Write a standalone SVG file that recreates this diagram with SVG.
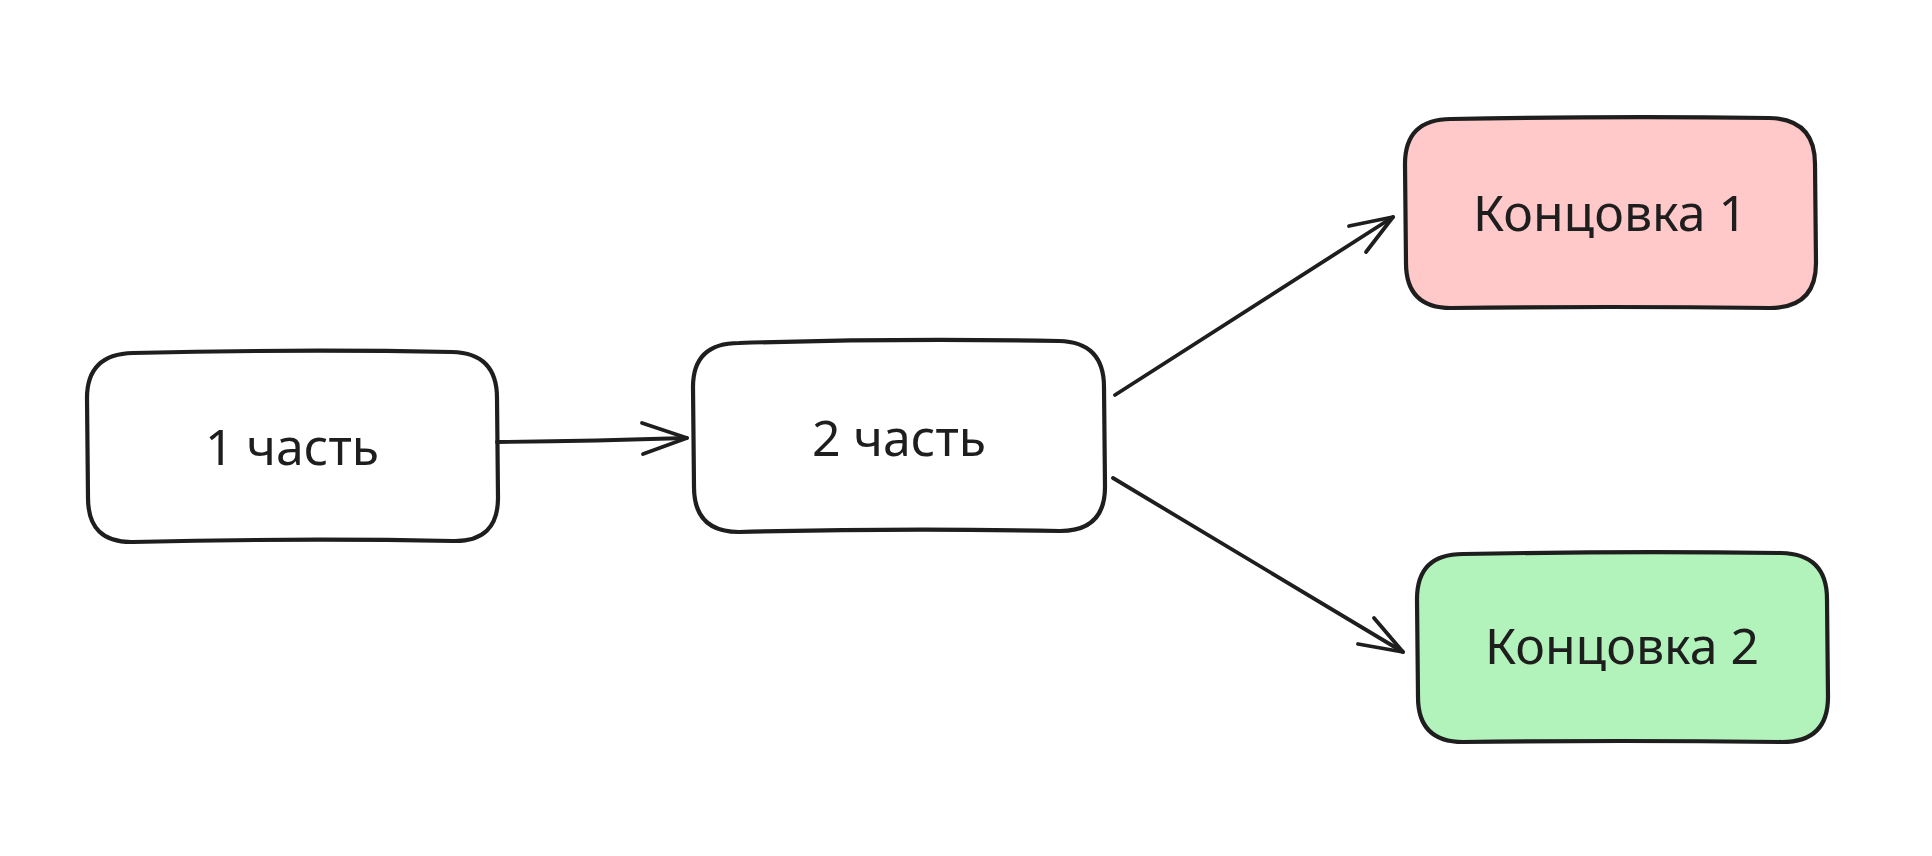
<svg xmlns="http://www.w3.org/2000/svg" width="1932" height="856" viewBox="0 0 1932 856">
  <style>
    .box { stroke: #1e1e1e; stroke-width: 4.2; stroke-linejoin: round; stroke-linecap: round; }
    .white { fill: #ffffff; }
    .pink { fill: #ffc9c9; }
    .green { fill: #b2f2bb; }
    .label { font-family: "Noto Sans", "Open Sans", sans-serif; font-size: 50px; fill: #1e1e1e; text-anchor: middle; }
    .conn path { fill: none; stroke: #1e1e1e; stroke-width: 3.8; stroke-linecap: round; stroke-linejoin: round; }
  </style>
  <rect width="1932" height="856" fill="#ffffff"/>

  <g id="node-part1">
    <path class="box white" d="M133 353 Q300 349 452 352 Q497 353 497 398 L498 498 Q498 542 453 541 Q300 538 133 542 Q88 543 88 498 L87 398 Q87 354 133 353 Z"/>
    <text class="label" x="292" y="465">1 часть</text>
  </g>

  <g id="node-part2">
    <path class="box white" d="M739 343 Q900 338 1059 341 Q1104 342 1104 387 L1105 487 Q1105 531 1060 531 Q900 528 739 532 Q694 532 694 487 L693 387 Q693 343 739 343 Z"/>
    <text class="label" x="899" y="456">2 часть</text>
  </g>

  <g id="node-ending1">
    <path class="box pink" d="M1451 119 Q1610 116 1769 118 Q1815 119 1815 164 L1816 263 Q1816 308 1770 308 Q1610 306 1451 308 Q1406 308 1406 263 L1405 164 Q1405 119 1451 119 Z"/>
    <text class="label" x="1610" y="231">Концовка 1</text>
  </g>

  <g id="node-ending2">
    <path class="box green" d="M1463 554 Q1620 551 1781 553 Q1827 554 1827 599 L1828 697 Q1828 742 1782 742 Q1620 740 1463 742 Q1418 742 1418 697 L1417 599 Q1417 554 1463 554 Z"/>
    <text class="label" x="1622" y="664">Концовка 2</text>
  </g>

  <g id="connectors" class="conn">
    <path d="M497 442 Q590 441 687 438"/>
    <path d="M642 423 L687 438 L643 454"/>
    <path d="M1115 395 L1393 217"/>
    <path d="M1349 226 L1393 217 L1366 252"/>
    <path d="M1113 478 L1403 652"/>
    <path d="M1358 644 L1403 652 L1374 618"/>
  </g>
</svg>
